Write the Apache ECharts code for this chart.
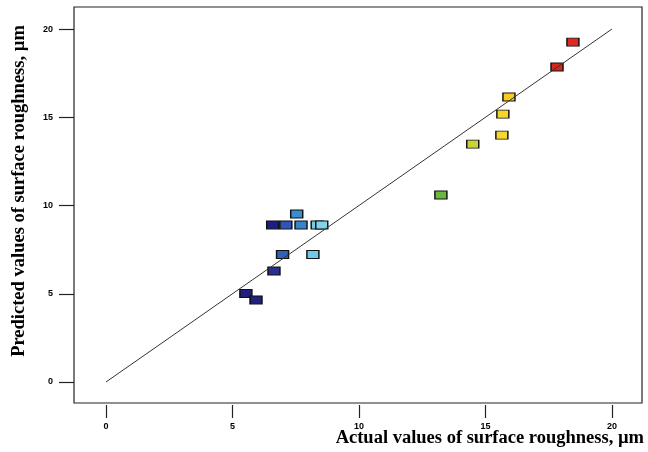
<!DOCTYPE html>
<html>
<head>
<meta charset="utf-8">
<script src="https://cdn.jsdelivr.net/npm/echarts@6/dist/echarts.min.js"></script>
<style>html,body{margin:0;padding:0;background:#fff}#c{width:648px;height:452px}</style>
</head>
<body>
<div id="c"></div>
<script>
const tickValues = [0, 5, 10, 15, 20];
const actual =    [18.46, 17.83, 15.93, 15.69, 15.65, 14.50, 13.24, 7.54, 6.59, 7.11, 7.71, 8.35, 8.53, 6.98, 8.18, 6.64, 5.53, 5.93];
const predicted = [19.26, 17.85, 16.15, 15.18, 13.99, 13.48, 10.60, 9.52, 8.90, 8.90, 8.90, 8.90, 8.90, 7.23, 7.23, 6.29, 5.02, 4.65];
const colors = ['#dc2a1e','#d8281c','#f4cc22','#f5d52a','#f6d630','#c9d437','#6cb83e','#3a8ed0','#1e1e82','#2c55b6','#3486cc','#74cde8','#80d4ec','#3262b4','#6ecae6','#28308e','#202078','#22227c'];
const diagonal = [[0, 0], [20, 20]];

const pts = actual.map((x, i) => ({value: [x, predicted[i]], itemStyle: {color: colors[i]}}));

const chart = echarts.init(document.getElementById('c'));
chart.setOption({
  animation: false,
  grid: {left: 74, right: 6, top: 7, bottom: 49, show: true, borderColor: '#222', borderWidth: 1.2, backgroundColor: 'transparent'},
  xAxis: {
    type: 'value', min: -1.265, max: 21.19, offset: 2,
    axisLine: {show: false, onZero: false}, splitLine: {show: false},
    axisTick: {show: true, length: 13, customValues: tickValues, lineStyle: {color: '#222', width: 1.2}},
    axisLabel: {customValues: tickValues, margin: 17, fontSize: 9, fontWeight: 'bold', color: '#000', fontFamily: 'Liberation Sans'}
  },
  yAxis: {
    type: 'value', min: -1.19, max: 21.25,
    axisLine: {show: false, onZero: false}, splitLine: {show: false},
    axisTick: {show: true, length: 15, customValues: tickValues, lineStyle: {color: '#222', width: 1.2}},
    axisLabel: {customValues: tickValues, margin: 21, fontSize: 9, fontWeight: 'bold', color: '#000', fontFamily: 'Liberation Sans'}
  },
  graphic: [
    {type: 'text', right: 4, top: 429, style: {text: 'Actual values of surface roughness, µm', font: 'bold 18.5px "Liberation Serif"', fill: '#000'}},
    {type: 'text', x: 19, y: 191, rotation: Math.PI / 2, style: {text: 'Predicted values of surface roughness, µm', font: 'bold 18.5px "Liberation Serif"', fill: '#000', align: 'center', verticalAlign: 'middle'}}
  ],
  series: [
    {type: 'line', data: diagonal, showSymbol: false, symbol: 'none', lineStyle: {color: '#333', width: 1}, z: 3, silent: true},
    {type: 'scatter', data: pts, symbol: 'rect', symbolSize: [12, 8], itemStyle: {borderColor: '#111', borderWidth: 1.2, opacity: 1}, z: 2}
  ]
});
</script>
</body>
</html>
